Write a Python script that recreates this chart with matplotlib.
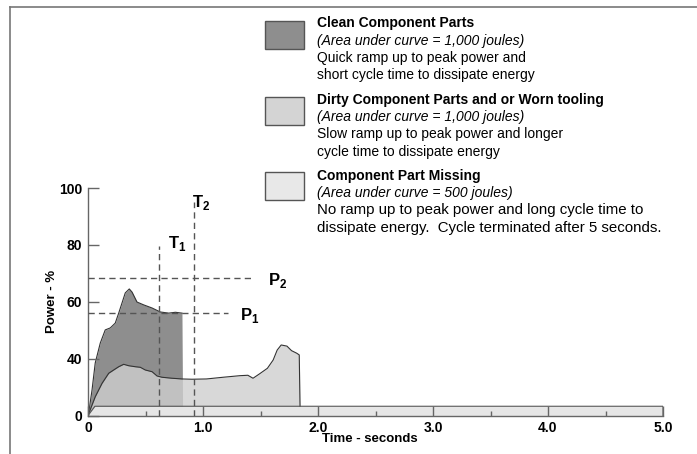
import numpy as np
import matplotlib
matplotlib.use("Agg")
import matplotlib.pyplot as plt
from matplotlib.lines import Line2D
from matplotlib.patches import Rectangle

plt.rcParams['font.family'] = ['Liberation Sans', 'DejaVu Sans']
plt.rcParams['mathtext.fontset'] = 'custom'
plt.rcParams['mathtext.rm'] = 'Liberation Sans'
plt.rcParams['mathtext.bf'] = 'Liberation Sans:bold'

# clean parts trace (time s, power %)
t_clean = [0, 0.006, 0.035, 0.063, 0.107, 0.15, 0.194, 0.237, 0.267, 0.296, 0.324,
           0.359, 0.383, 0.426, 0.484, 0.557, 0.629, 0.702, 0.76, 0.817, 0.823]
p_clean = [0, 1.8, 17.9, 37, 45.5, 50.1, 50.8, 52.5, 56, 59.6, 63.1,
           64.5, 63.4, 59.9, 58.9, 57.8, 56.4, 56, 56.3, 56, 0]

# dirty parts / worn tooling trace
t_dirty = [0, 0.063, 0.122, 0.18, 0.223, 0.267, 0.31, 0.354, 0.411, 0.455, 0.498,
           0.557, 0.6, 0.643, 0.73, 0.817, 0.904, 1.03, 1.175, 1.32, 1.39, 1.435,
           1.49, 1.56, 1.61, 1.645, 1.68, 1.73, 1.77, 1.815, 1.837, 1.845]
p_dirty = [0, 13.2, 22.6, 29.7, 32, 34.3, 36, 35, 34.3, 33.9, 32,
           30.8, 27.8, 26.9, 26.2, 25.7, 25.5, 25.7, 26.9, 28, 28.3, 26.2,
           29.2, 33.2, 39, 43, 44.8, 44.4, 42.8, 41.9, 41.3, 0]

# component part missing trace
t_missing = [0, 0.06, 5.0, 5.0]
p_missing = [0, 6.5, 6.5, 0]

# reference markers
p1_level, p2_level = 56, 68.2
t1_time, t2_time = 0.62, 0.925

x_ticks = [0, 1, 2, 3, 4, 5]
x_labels = ['0', '1.0', '2.0', '3.0', '4.0', '5.0']
y_ticks = [0, 40, 60, 80, 100]

legend_titles = ['Clean Component Parts',
                 'Dirty Component Parts and or Worn tooling',
                 'Component Part Missing']
legend_areas = ['(Area under curve = 1,000 joules)',
                '(Area under curve = 1,000 joules)',
                '(Area under curve = 500 joules)']
legend_notes = [['Quick ramp up to peak power and', 'short cycle time to dissipate energy'],
                ['Slow ramp up to peak power and longer', 'cycle time to dissipate energy'],
                ['No ramp up to peak power and long cycle time to',
                 'dissipate energy.  Cycle terminated after 5 seconds.']]
legend_colors = ['#8e8e8e', '#d4d4d4', '#e8e8e8']


def fwd(y):
    y = np.asarray(y, dtype=float)
    return np.where(y < 40, y / 2.0, y - 20.0)


def inv(y):
    y = np.asarray(y, dtype=float)
    return np.where(y < 20, y * 2.0, y + 20.0)


W, H = 697, 454
fig = plt.figure(figsize=(W / 100, H / 100), dpi=100)
ax = fig.add_axes([88 / W, (H - 415.5) / H, 575 / W, 227.5 / H])
ax.set_yscale('function', functions=(fwd, inv))
ax.set_xlim(0, 5.0)
ax.set_ylim(0, 100)

edge = '#333333'
ax.fill_between(t_clean, 0, p_clean, color='#8e8e8e', lw=0, zorder=1.1)
ax.plot(t_clean[:-1], p_clean[:-1], color=edge, lw=0.8, zorder=1.2)
ax.fill_between(t_dirty, 0, p_dirty, color='#cfcfcf', alpha=0.8, lw=0, zorder=1.3)
ax.plot(t_dirty, p_dirty, color=edge, lw=0.8, zorder=1.4)
ax.fill_between(t_missing, 0, p_missing, color='#e6e6e6', lw=0, zorder=2)
ax.plot(t_missing, p_missing, color='#555555', lw=0.8, zorder=2.1)

dash = dict(color='#555555', lw=1, dashes=(4.5, 3), zorder=3)
ax.plot([0, 1.22], [p1_level, p1_level], **dash)
ax.plot([0, 1.44], [p2_level, p2_level], **dash)
ax.plot([t1_time, t1_time], [0, 79.6], **dash)
ax.plot([t2_time, t2_time], [0, 95.2], **dash)

lbl = dict(fontsize=12, va='baseline', ha='left', zorder=4)
ax.text(1.32, 53.6, r'$\mathbf{P}_\mathbf{1}$', **lbl)
ax.text(1.565, 65.9, r'$\mathbf{P}_\mathbf{2}$', **lbl)
ax.text(0.696, 78.9, r'$\mathbf{T}_\mathbf{1}$', **lbl)
ax.text(0.904, 93.3, r'$\mathbf{T}_\mathbf{2}$', **lbl)

for s in ['top', 'right']:
    ax.spines[s].set_visible(False)
for s in ['left', 'bottom']:
    ax.spines[s].set_color('#666666')
    ax.spines[s].set_linewidth(1)
ax.set_axisbelow(False)

ax.set_xticks(x_ticks)
ax.set_xticklabels(x_labels)
ax.set_xticks([0.5, 1.5, 2.5, 3.5, 4.5], minor=True)
ax.set_yticks(y_ticks)
ax.set_yticklabels([str(v) for v in y_ticks])
ax.yaxis.set_minor_locator(matplotlib.ticker.NullLocator())
ax.tick_params(axis='x', which='major', direction='in', length=7, width=1,
               color='#666666', pad=4, labelsize=10)
ax.tick_params(axis='x', which='minor', direction='in', length=3.5, width=1,
               color='#666666')
ax.tick_params(axis='y', direction='in', length=8, width=1, color='#666666',
               pad=4, labelsize=10)
for lab in ax.get_xticklabels() + ax.get_yticklabels():
    lab.set_fontweight('bold')

ax.set_xlabel('Time - seconds', fontsize=9.5, fontweight='bold')
ax.xaxis.set_label_coords(0.49, -0.075)
ax.set_ylabel('Power - %', fontsize=9.5, fontweight='bold')
ax.yaxis.set_label_coords(-0.052, 0.5)

# legend block drawn in figure pixels
box_tops = [20.7, 96.7, 171.7]
baselines = [27.5, 104, 180]
note_sizes = [10, 10, 10.8]
step = 17.2
for i in range(3):
    fig.add_artist(Rectangle((265 / W, 1 - (box_tops[i] + 28.3) / H), 39 / W, 28.3 / H,
                             transform=fig.transFigure, facecolor=legend_colors[i],
                             edgecolor='#555555', lw=1))
    y0 = baselines[i]
    fig.text(317 / W, 1 - y0 / H, legend_titles[i], fontsize=10, fontweight='bold', va='baseline')
    fig.text(317 / W, 1 - (y0 + step) / H, legend_areas[i], fontsize=10, style='italic', va='baseline')
    for j, note in enumerate(legend_notes[i]):
        fig.text(317 / W, 1 - (y0 + step * (j + 2)) / H, note, fontsize=note_sizes[i], va='baseline')

# frame lines at top and left
fig.add_artist(Line2D([9.5 / W, 1], [1 - 7 / H, 1 - 7 / H], transform=fig.transFigure,
                      color='#777777', lw=1.2))
fig.add_artist(Line2D([9.5 / W, 9.5 / W], [0, 1 - 7 / H], transform=fig.transFigure,
                      color='#777777', lw=1.2))

fig.savefig('out.png', dpi=100)
